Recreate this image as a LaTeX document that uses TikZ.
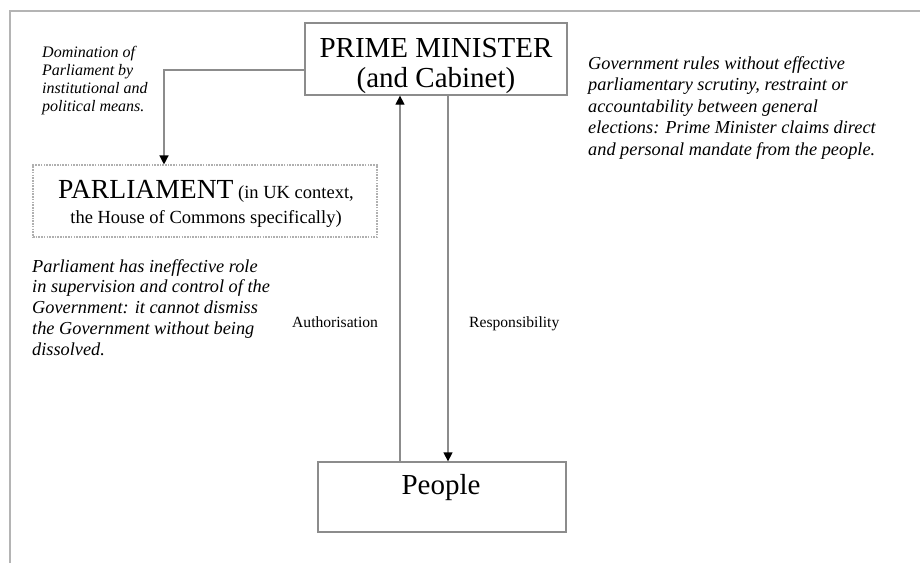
\documentclass[tikz,border=0pt]{standalone}
\usepackage{fontspec}
\setmainfont{Liberation Serif}
\usetikzlibrary{arrows.meta}

\definecolor{framegray}{HTML}{B4B4B4}
\definecolor{linegray}{HTML}{8C8C8C}
\definecolor{dotgray}{HTML}{B0B0B0}

\tikzset{
  framestroke/.style={draw=framegray, line width=1.6pt},
  boxstroke/.style={draw=linegray, line width=1.3pt, fill=white, inner sep=0pt},
  dotbox/.style={draw=dotgray, line width=1.1pt, dash pattern=on 1.6pt off 1.1pt, inner sep=0pt},
  link/.style={draw=linegray, line width=1.3pt},
  linkarrow/.style={link, -{Triangle[length=9pt,width=9pt,color=black]}},
  % multi-line nodes sit on the baseline of their last line
  note/.style={inner sep=0pt, anchor=base west, align=left, font=\itshape},
  plain/.style={inner sep=0pt, anchor=base west},
  title/.style={inner sep=0pt, anchor=base, align=center},
}

\begin{document}
\begin{tikzpicture}[x=1pt,y=-1pt]
  \useasboundingbox (0,0) rectangle (920,563);

  % open page frame along the top and left
  \draw[framestroke] (10,563) -- (10,11) -- (920,11);

  % boxes
  \node[boxstroke, minimum width=262pt, minimum height=72pt] (pm) at (436,59) {};
  \node[dotbox, minimum width=344pt, minimum height=72pt] (parl) at (205,201) {};
  \node[boxstroke, minimum width=248pt, minimum height=70pt] (people) at (442,497) {};

  % box titles
  \node[title, font=\fontsize{29}{30}\selectfont] (pmtext) at (436,87)
    {PRIME MINISTER\\(and Cabinet)};
  \node[title, font=\fontsize{18.5}{25}\selectfont] (parltext) at (206,223)
    {{\fontsize{27.6}{30}\selectfont PARLIAMENT} (in UK context,\\the House of Commons specifically)};
  \node[title, font=\fontsize{29}{30}\selectfont] (peopletext) at (441,494) {People};

  % connectors
  \coordinate (bend) at (164,70);
  \coordinate (upx) at (400,0);
  \coordinate (downx) at (448,0);
  \draw[linkarrow] (pm.west |- bend) -- (bend) -- (bend |- parl.north);
  \draw[linkarrow] (upx |- people.north) -- (upx |- pm.south);
  \draw[linkarrow] (downx |- pm.south) -- (downx |- people.north);

  % connector labels
  \node[plain, font=\fontsize{15.6}{18}\selectfont] (auth) at (292,327) {Authorisation};
  \node[plain, font=\fontsize{15.6}{18}\selectfont] (resp) at (469,327) {Responsibility};

  % commentary
  \node[note, font=\itshape\fontsize{16}{18}\selectfont] (domination) at (42,111)
    {Domination of\\Parliament by\\institutional and\\political means.};
  \node[note, font=\itshape\fontsize{18.3}{21.5}\selectfont] (govnote) at (588,155)
    {Government rules without effective\\parliamentary scrutiny, restraint or\\accountability between general\\elections: Prime Minister claims direct\\and personal mandate from the people.};
  \node[note, font=\itshape\fontsize{18.3}{20.75}\selectfont] (parlnote) at (32,355)
    {Parliament has ineffective role\\in supervision and control of the\\Government: it cannot dismiss\\the Government without being\\dissolved.};
\end{tikzpicture}
\end{document}
